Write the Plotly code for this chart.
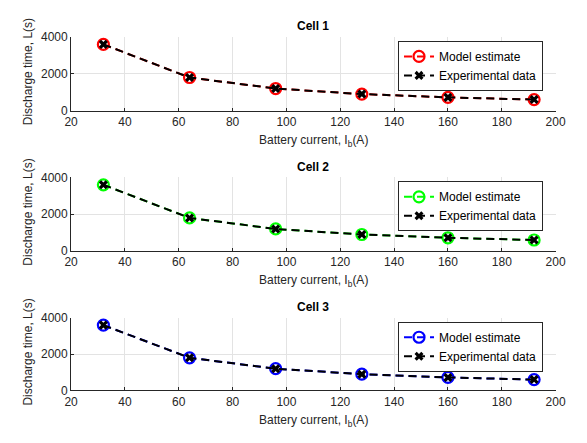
import plotly.graph_objects as go

current = [32, 64, 96, 128, 160, 192]
model_1 = [3600, 1800, 1200, 900, 720, 600]
exp_1 = [3600, 1800, 1200, 900, 720, 600]
model_2 = [3600, 1800, 1200, 900, 720, 600]
exp_2 = [3600, 1800, 1200, 900, 720, 600]
model_3 = [3600, 1800, 1200, 900, 720, 600]
exp_3 = [3600, 1800, 1200, 900, 720, 600]
cells = ["Cell 1", "Cell 2", "Cell 3"]
colors = ["#FF0000", "#00FF00", "#0000FF"]
x_ticks = [20, 40, 60, 80, 100, 120, 140, 160, 180, 200]
y_ticks = [0, 2000, 4000]

W, H = 587, 443
FONT = "Liberation Sans, Arial, Helvetica, sans-serif"
AX = "#262626"
GRID = "#e3e3e3"

# pixel boxes (top, bottom) of each panel
panels = [(31, 107), (176, 252), (321, 396)]
xl, xr = 66, 565

fig = go.Figure()
models = [model_1, model_2, model_3]
exps = [exp_1, exp_2, exp_3]
legend_tops = [35, 180, 325]

def py(p):
    return (H - p) / H

for i in range(3):
    sfx = "" if i == 0 else str(i + 1)
    lg = "legend" if i == 0 else "legend" + str(i + 1)
    fig.add_trace(go.Scatter(
        x=current, y=models[i], mode="lines+markers", name="Model estimate",
        line=dict(color=colors[i], width=2, dash="8px,5px"),
        marker=dict(symbol="circle-open", size=11, color=colors[i], line=dict(width=2.2, color=colors[i])),
        xaxis="x" + sfx, yaxis="y" + sfx, legend=lg, cliponaxis=False))
    fig.add_trace(go.Scatter(
        x=current, y=exps[i], mode="lines+markers", name="Experimental data",
        line=dict(color="#000000", width=2, dash="8px,5px"),
        marker=dict(symbol="x", size=8, color="#000000", line=dict(width=0)),
        xaxis="x" + sfx, yaxis="y" + sfx, legend=lg, cliponaxis=False))
    top, bot = panels[i]
    fig.layout["xaxis" + sfx] = dict(
        domain=[xl / W, xr / W], range=[20, 200], tickvals=x_ticks,
        showgrid=True, gridcolor=GRID, gridwidth=1, zeroline=False,
        showline=True, linecolor=AX, linewidth=1, ticks="inside", ticklen=3,
        tickcolor=AX, tickfont=dict(size=12, color=AX, family=FONT),
        anchor="y" + sfx, fixedrange=True)
    fig.layout["yaxis" + sfx] = dict(
        domain=[py(bot), py(top)], range=[0, 4000], tickvals=y_ticks,
        showgrid=True, gridcolor=GRID, gridwidth=1, zeroline=False,
        showline=True, linecolor=AX, linewidth=1, ticks="inside", ticklen=3,
        tickcolor=AX, tickfont=dict(size=12, color=AX, family=FONT),
        anchor="x" + sfx, fixedrange=True)
    fig.layout[lg] = dict(
        x=552 / W, y=py(legend_tops[i]), xanchor="right", yanchor="top",
        bgcolor="white", bordercolor=AX, borderwidth=1,
        font=dict(size=12, color="#000000", family=FONT),
        tracegroupgap=0, itemwidth=30)
    cx = (xl + xr) / 2 / W
    fig.add_annotation(text="<b>" + cells[i] + "</b>", x=cx, y=py(top - 11),
                       xref="paper", yref="paper", showarrow=False,
                       xanchor="center", yanchor="middle",
                       font=dict(size=12, color="#000000", family=FONT))
    fig.add_annotation(text="Battery current, I<sub>b</sub>(A)", x=cx, y=py(bot + 31),
                       xref="paper", yref="paper", showarrow=False,
                       xanchor="center", yanchor="middle",
                       font=dict(size=12, color=AX, family=FONT))
    fig.add_annotation(text="Discharge time, L(s)", x=22 / W, y=py((top + bot) / 2 - 2),
                       xref="paper", yref="paper", showarrow=False, textangle=-90,
                       xanchor="center", yanchor="middle",
                       font=dict(size=12, color=AX, family=FONT))

fig.update_layout(width=W, height=H, margin=dict(l=0, r=0, t=0, b=0),
                  paper_bgcolor="white", plot_bgcolor="white")
fig.write_html("out.html")
